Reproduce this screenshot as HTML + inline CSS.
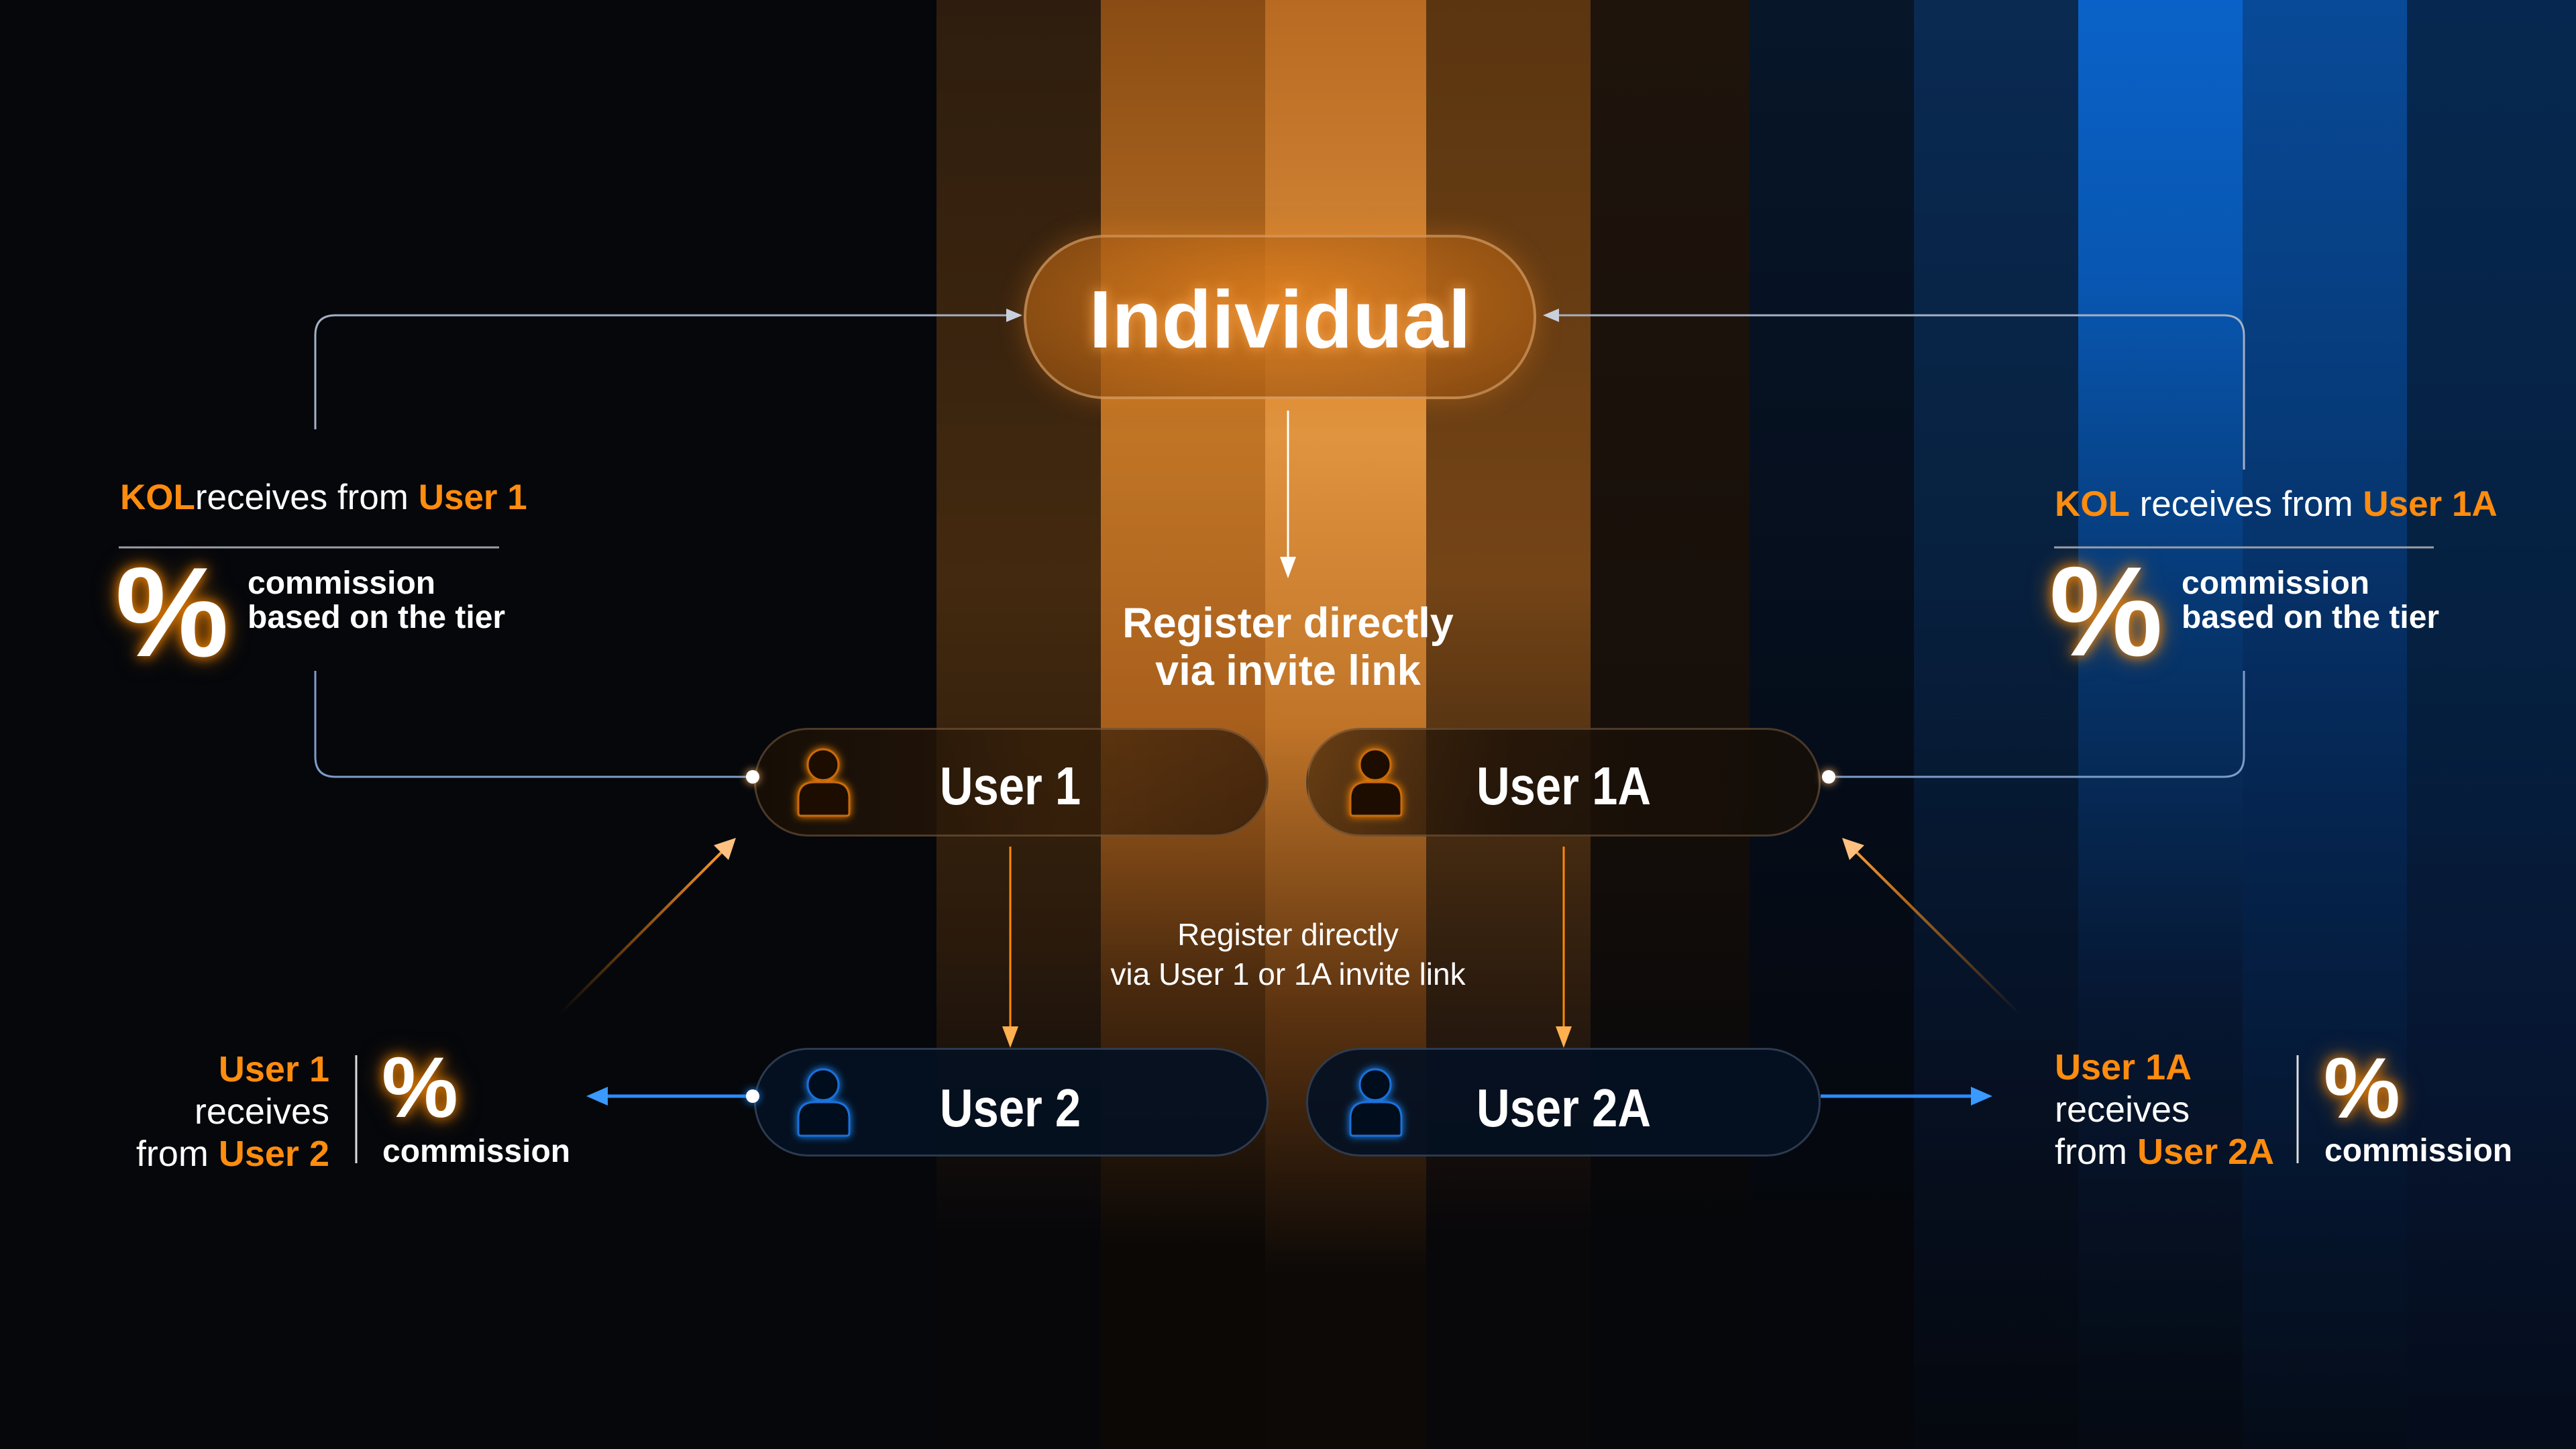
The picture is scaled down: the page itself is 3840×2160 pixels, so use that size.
<!DOCTYPE html>
<html><head><meta charset="utf-8"><style>
*{margin:0;padding:0;box-sizing:border-box}
body{width:3840px;height:2160px;background:#05070b;overflow:hidden;position:relative;font-family:"Liberation Sans",sans-serif;color:#fff}
.s{position:absolute;top:0;height:2160px}
.abs{position:absolute;white-space:nowrap;line-height:1}
.o{color:#ff8c0f}
.b{font-weight:bold}
.pill{position:absolute;border-radius:200px}
.pct{position:absolute;line-height:1;font-weight:bold;color:#fff;text-shadow:0 0 18px #ff8a00,0 0 36px rgba(255,138,0,.6)}
</style></head><body>
<div class="s" style="left:1396px;width:245px;background:linear-gradient(#2e1d0e,#43290f 40%,#2a1a0c 65%,#07070a 85%)"></div>
<div class="s" style="left:1641px;width:245px;background:linear-gradient(#8a4c14,#c07525 30%,#a85f1c 50%,#4a2a0e 68%,#0b0806 86%)"></div>
<div class="s" style="left:1886px;width:240px;background:linear-gradient(#b86a22,#e0943f 30%,#c07428 50%,#5a3210 70%,#0c0907 88%)"></div>
<div class="s" style="left:2126px;width:245px;background:linear-gradient(#5a3510,#744416 40%,#3a2410 62%,#08070a 85%)"></div>
<div class="s" style="left:2371px;width:237px;background:linear-gradient(#1e140c,#170f0a 50%,#06070a 85%)"></div>
<div class="s" style="left:2608px;width:245px;background:linear-gradient(#071629,#050d1a 50%,#05070c 85%)"></div>
<div class="s" style="left:2853px;width:245px;background:linear-gradient(#0a2a52,#07203e 40%,#061226 70%,#05080e)"></div>
<div class="s" style="left:3098px;width:245px;background:linear-gradient(#0a62c8,#0856b0 20%,#06346a 45%,#061630 70%,#050a12)"></div>
<div class="s" style="left:3343px;width:245px;background:linear-gradient(#084a98,#063a78 30%,#052550 55%,#051630 80%,#050c18)"></div>
<div class="s" style="left:3588px;width:252px;background:linear-gradient(#062850,#052040 45%,#061530 75%,#050c1a)"></div>

<!-- pills -->
<div class="pill" style="left:1526px;top:350px;width:764px;height:245px;background:radial-gradient(ellipse at 50% 40%,rgba(220,125,30,.85),rgba(140,75,15,.7));border:4px solid rgba(255,210,160,.4);box-shadow:0 0 40px rgba(255,140,30,.3)"></div>
<div class="pill" style="left:1124px;top:1085px;width:767px;height:162px;background:linear-gradient(90deg,rgba(25,15,6,.88),rgba(55,32,10,.65) 60%,rgba(40,22,8,.7));border:3px solid rgba(200,160,120,.3)"></div>
<div class="pill" style="left:1947px;top:1085px;width:767px;height:162px;background:linear-gradient(90deg,rgba(60,35,10,.65),rgba(30,18,8,.85) 40%,rgba(20,14,8,.92));border:3px solid rgba(200,160,120,.3)"></div>
<div class="pill" style="left:1124px;top:1562px;width:767px;height:162px;background:rgba(4,16,34,.92);border:3px solid rgba(120,140,170,.35)"></div>
<div class="pill" style="left:1947px;top:1562px;width:767px;height:162px;background:rgba(4,16,34,.92);border:3px solid rgba(120,140,170,.35)"></div>

<svg style="position:absolute;left:0;top:0" width="3840" height="2160" viewBox="0 0 3840 2160">
<defs>
<filter id="go" x="-50%" y="-50%" width="200%" height="200%"><feDropShadow dx="0" dy="0" stdDeviation="6" flood-color="#ff8a00" flood-opacity="1"/></filter>
<filter id="gb" x="-50%" y="-50%" width="200%" height="200%"><feDropShadow dx="0" dy="0" stdDeviation="6" flood-color="#1f8cff" flood-opacity="1"/></filter>
<filter id="gw" x="-100%" y="-100%" width="300%" height="300%"><feDropShadow dx="0" dy="0" stdDeviation="6" flood-color="#ffb060" flood-opacity="1"/></filter>
<linearGradient id="dl" x1="0" y1="1" x2="1" y2="0"><stop offset="0" stop-color="#ff8a00" stop-opacity="0"/><stop offset="1" stop-color="#ff9a30"/></linearGradient>
<linearGradient id="dr" x1="1" y1="1" x2="0" y2="0"><stop offset="0" stop-color="#ff8a00" stop-opacity="0"/><stop offset="1" stop-color="#ff9a30"/></linearGradient>
</defs>
<g fill="none" stroke="#a4b0c4" stroke-width="3">
<path d="M1505 470 H500 Q470 470 470 500 V640"/>
<path d="M470 1000 V1128 Q470 1158 500 1158 H1122" stroke="#7d9cc8"/>
<path d="M2318 470 H3315 Q3345 470 3345 500 V700"/>
<path d="M3345 1000 V1128 Q3345 1158 3315 1158 H2726" stroke="#7d9cc8"/>
<path d="M1920 612 V835" stroke="#fff"/>
<path d="M1506 1262 V1535" stroke="#ff8a00"/>
<path d="M2331 1262 V1535" stroke="#ff8a00"/>
<path d="M833 1513 L1080 1266" stroke="url(#dl)" stroke-width="4"/>
<path d="M3012 1513 L2763 1266" stroke="url(#dr)" stroke-width="4"/>
<path d="M1122 1634 H900" stroke="#2a8cff" stroke-width="5"/>
<path d="M2714 1634 H2945" stroke="#2a8cff" stroke-width="5"/>
</g>
<g>
<polygon points="1524,470 1500,460 1500,480" fill="#c8d0dc"/>
<polygon points="2300,470 2324,460 2324,480" fill="#c8d0dc"/>
<polygon points="1920,862 1908,830 1932,830" fill="#fff"/>
<polygon points="1506,1562 1494,1530 1518,1530" fill="#ffb050"/>
<polygon points="2331,1562 2319,1530 2343,1530" fill="#ffb050"/>
<polygon points="1097,1249 1086,1282 1064,1260" fill="#ffc080"/>
<polygon points="2746,1249 2757,1282 2779,1260" fill="#ffc080"/>
<polygon points="874,1634 906,1620 906,1648" fill="#3a9aff"/>
<polygon points="2970,1634 2938,1620 2938,1648" fill="#3a9aff"/>
<circle cx="1122" cy="1158" r="10" fill="#fff" filter="url(#gw)"/>
<circle cx="2726" cy="1158" r="10" fill="#fff" filter="url(#gw)"/>
<circle cx="1122" cy="1634" r="10" fill="#fff" filter="url(#gb)"/>
</g>
<g fill="#1a0f06" stroke="#c86a10" stroke-width="3" filter="url(#go)">
<circle cx="1227" cy="1140" r="23"/><path d="M1190 1212 V1190 Q1190 1166 1214 1166 H1242 Q1266 1166 1266 1190 V1212 Q1266 1216 1262 1216 H1194 Q1190 1216 1190 1212Z"/>
<circle cx="2050" cy="1140" r="23"/><path d="M2013 1212 V1190 Q2013 1166 2037 1166 H2065 Q2089 1166 2089 1190 V1212 Q2089 1216 2085 1216 H2017 Q2013 1216 2013 1212Z"/>
</g>
<g fill="#06101e" stroke="#1a70d8" stroke-width="3" filter="url(#gb)">
<circle cx="1227" cy="1617" r="23"/><path d="M1190 1689 V1667 Q1190 1643 1214 1643 H1242 Q1266 1643 1266 1667 V1689 Q1266 1693 1262 1693 H1194 Q1190 1693 1190 1689Z"/>
<circle cx="2050" cy="1617" r="23"/><path d="M2013 1689 V1667 Q2013 1643 2037 1643 H2065 Q2089 1643 2089 1667 V1689 Q2089 1693 2085 1693 H2017 Q2013 1693 2013 1689Z"/>
</g>
<g stroke-width="3">
<line x1="177" y1="816" x2="744" y2="816" stroke="#9a9ea6"/>
<line x1="3062" y1="816" x2="3628" y2="816" stroke="#9a9ea6"/>
<line x1="531" y1="1573" x2="531" y2="1734" stroke="#ddd"/>
<line x1="3425" y1="1573" x2="3425" y2="1734" stroke="#ddd"/>
</g>
</svg>

<!-- node texts -->
<div class="abs b" style="left:1908px;top:415px;font-size:122px;transform:translateX(-50%);text-shadow:0 0 20px rgba(255,170,80,.9)">Individual</div>
<div class="abs b" style="left:1506px;top:1132px;font-size:80px;transform:translateX(-50%) scaleX(.86)">User 1</div>
<div class="abs b" style="left:2331px;top:1132px;font-size:80px;transform:translateX(-50%) scaleX(.86)">User 1A</div>
<div class="abs b" style="left:1506px;top:1612px;font-size:80px;transform:translateX(-50%) scaleX(.86)">User 2</div>
<div class="abs b" style="left:2331px;top:1612px;font-size:80px;transform:translateX(-50%) scaleX(.86)">User 2A</div>
<div class="abs b" style="left:1920px;top:894px;font-size:63px;transform:translateX(-50%);text-align:center;line-height:71px">Register directly<br>via invite link</div>
<div class="abs" style="left:1920px;top:1364px;font-size:46px;transform:translateX(-50%);text-align:center;line-height:59px">Register directly<br>via User 1 or 1A invite link</div>

<!-- left labels -->
<div class="abs" style="left:179px;top:715px;font-size:53px"><span class="o b">KOL</span>receives from <span class="o b">User 1</span></div>
<div class="pct" style="left:172px;top:818px;font-size:190px">%</div>
<div class="abs b" style="left:369px;top:844px;font-size:48px;line-height:51px">commission<br>based on the tier</div>
<div class="abs" style="right:3349px;top:1563px;font-size:54px;line-height:63px;text-align:right"><span class="o b">User 1</span><br>receives<br>from <span class="o b">User 2</span></div>
<div class="pct" style="left:569px;top:1558px;font-size:128px">%</div>
<div class="abs b" style="left:570px;top:1693px;font-size:48px">commission</div>

<!-- right labels -->
<div class="abs" style="left:3063px;top:725px;font-size:53px"><span class="o b">KOL</span> receives from <span class="o b">User 1A</span></div>
<div class="pct" style="left:3055px;top:817px;font-size:190px">%</div>
<div class="abs b" style="left:3252px;top:844px;font-size:48px;line-height:51px">commission<br>based on the tier</div>
<div class="abs" style="left:3063px;top:1560px;font-size:54px;line-height:63px"><span class="o b">User 1A</span><br>receives<br>from <span class="o b">User 2A</span></div>
<div class="pct" style="left:3464px;top:1559px;font-size:128px">%</div>
<div class="abs b" style="left:3465px;top:1692px;font-size:48px">commission</div>
</body></html>
